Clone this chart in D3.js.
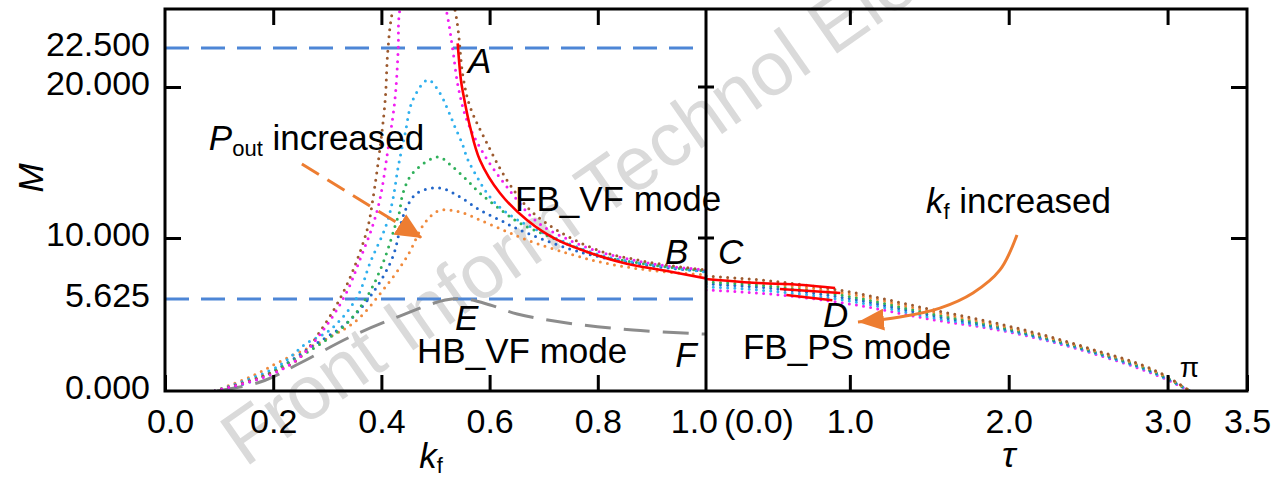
<!DOCTYPE html>
<html>
<head>
<meta charset="utf-8">
<script src="https://cdn.jsdelivr.net/npm/d3@7"></script>
<style>
  body { margin: 0; background: #fff; }
  text { font-family: "Liberation Sans", Arial, sans-serif; }
</style>
</head>
<body>
<div id="chart"></div>
<script>
// ---- data ----
// left panel: [k_f, M] per P_out level (dotted)
const kfMagenta = [[0.092,0],[0.194,0.98],[0.25,2.08],[0.299,4.03],[0.336,6.13],[0.36,8.42],[0.383,10.73],
  [0.397,12.52],[0.412,15.83],[0.425,19.17],[0.431,22.37],[0.434,24.94],[0.478,31],[0.521,24.74],[0.532,22.37],
  [0.542,20.0],[0.558,17.81],[0.588,15.63],[0.632,13.38],[0.688,11.06],[0.743,9.93],[0.804,9.0],[0.865,8.42],
  [0.928,7.99],[1.0,7.71]];
const kfBrown = [[0.092,0],[0.176,0.86],[0.244,1.89],[0.292,3.91],[0.329,6.06],[0.355,8.42],[0.375,10.73],
  [0.384,12.52],[0.397,15.83],[0.407,19.14],[0.412,22.37],[0.421,24.94],[0.477,32],[0.536,24.94],[0.551,20.64],
  [0.564,18.68],[0.595,16.29],[0.632,13.84],[0.675,11.85],[0.73,10.4],[0.804,9.07],[0.865,8.49],[0.928,8.06],[1.0,7.71]];
const kfLightBlue = [[0.092,0],[0.207,1.47],[0.262,2.93],[0.305,3.73],[0.355,5.75],[0.379,8.21],[0.409,10.86],
  [0.421,12.52],[0.431,14.7],[0.444,16.95],[0.458,19.14],[0.486,20.45],[0.508,19.6],[0.523,18.48],[0.536,17.35],
  [0.549,16.29],[0.56,15.17],[0.577,14.04],[0.595,12.98],[0.614,12.19],[0.643,11.39],[0.669,10.86],[0.717,10.07],
  [0.804,8.78],[0.865,8.28],[0.928,7.92],[1.0,7.56]];
const kfGreen = [[0.092,0],[0.185,0.98],[0.329,3.91],[0.373,5.77],[0.403,8.21],[0.427,10.99],[0.433,11.66],
  [0.44,12.98],[0.458,14.3],[0.505,15.36],[0.532,14.7],[0.558,13.84],[0.582,12.98],[0.614,12.05],[0.656,10.99],
  [0.717,10.0],[0.804,8.71],[0.865,8.28],[0.928,7.92],[1.0,7.63]];
const kfBlue = [[0.092,0],[0.176,0.79],[0.281,2.93],[0.336,4.16],[0.384,6.06],[0.421,8.64],[0.438,11.19],
  [0.447,12.05],[0.466,12.98],[0.508,13.31],[0.545,12.72],[0.582,11.85],[0.619,11.19],[0.656,10.53],[0.743,9.28],
  [0.804,8.64],[0.865,8.21],[0.928,7.85],[1.0,7.63]];
const kfOrange = [[0.092,0],[0.157,0.86],[0.218,1.89],[0.305,3.3],[0.355,4.34],[0.403,6.27],[0.447,8.64],
  [0.48,11.0],[0.505,11.8],[0.527,11.85],[0.551,11.66],[0.582,11.19],[0.625,10.53],[0.669,9.86],[0.743,8.92],
  [0.804,8.28],[0.865,7.85],[0.928,7.56],[1.0,7.35]];
// FB_VF mode (solid red) and HB_VF mode (grey dashed)
const kfRed = [[0.541,22.8],[0.547,20.45],[0.551,19.6],[0.564,17.35],[0.582,15.17],[0.619,12.98],[0.669,11.19],
  [0.725,9.86],[0.786,8.93],[0.848,8.21],[0.928,7.63],[1.0,7.1]];
const kfHB = [[0.096,0],[0.176,0.55],[0.25,1.71],[0.342,3.3],[0.434,4.58],[0.518,5.56],[0.555,5.625],
  [0.601,5.26],[0.651,4.71],[0.743,4.16],[0.865,3.73],[1.0,3.48]];

// right panel: tau sample points and M per curve (dotted)
const tauPoints = [0.095, 0.5, 1.0, 1.5, 2.0, 2.5, 3.0, 3.14];
const tauBrown     = [7.27, 6.92, 6.13, 5.01, 3.97, 2.63, 0.86, 0];
const tauOrange    = [7.05, 6.72, 5.98, 4.88, 3.88, 2.58, 0.82, 0];
const tauGreen     = [6.85, 6.55, 5.80, 4.75, 3.80, 2.52, 0.78, 0];
const tauBlue      = [6.70, 6.40, 5.65, 4.65, 3.74, 2.48, 0.75, 0];
const tauLightBlue = [6.50, 6.20, 5.50, 4.52, 3.67, 2.43, 0.71, 0];
const tauMagenta   = [6.27, 5.98, 5.32, 4.40, 3.61, 2.38, 0.67, 0];
// FB_PS mode (solid red pieces)
const tauRedA = [[0.095,7.06],[0.39,6.79],[0.706,6.63],[0.907,6.41]];
const tauRedB = [[0.56,6.34],[0.94,6.06]];
const tauRedC = [[0.6,5.91],[0.89,5.55]];

// axes
const kfTicks = [0, 0.2, 0.4, 0.6, 0.8];
const tauTicks = [1, 2, 3, 3.5];
const mTicks = [0, 5.625, 10, 20, 22.5];
const mMajor = [10, 20];
const mLimits = [22.5, 5.625];

// annotation arrows (data units)
const poutArrow = [[0.253,14.9],[0.475,10.0]];
const kfArrow = [[2.052,10.2],[1.945,7.71],[1.775,6.06],[1.567,5.07],[1.315,4.52],[1.051,4.22]];

// ---- layout ----
const W = 1277, H = 478;
const xL = 165, xM = 706, xR = 1247, yT = 9, yB = 391;

const svg = d3.select("#chart").append("svg")
  .attr("width", W).attr("height", H);

const x1 = d3.scaleLinear().domain([0, 1]).range([xL, xM]);
const x2 = d3.scaleLinear().domain([0, 3.5]).range([691, xR]);
// the drawn M axis is not uniform, so the scale follows its tick marks
const y = d3.scaleLinear().domain([0, 5.625, 10, 20, 25]).range([yB, 299, 238, 87, yT]);

// watermark
svg.append("text")
  .attr("transform", `translate(245,468) rotate(-35)`)
  .attr("font-size", 76)
  .attr("fill", "#dadada")
  .text("Front Inform Technol Electron Eng");

const defs = svg.append("defs");
defs.append("clipPath").attr("id", "clipL").append("rect")
  .attr("x", xL).attr("y", yT).attr("width", xM - xL).attr("height", yB - yT);
defs.append("clipPath").attr("id", "clipR").append("rect")
  .attr("x", xM).attr("y", yT).attr("width", xR - xM).attr("height", yB - yT);

const mk = (id, color, w, h) => defs.append("marker")
  .attr("id", id).attr("markerUnits", "userSpaceOnUse")
  .attr("markerWidth", w).attr("markerHeight", h)
  .attr("refX", w).attr("refY", h / 2).attr("orient", "auto")
  .append("path").attr("d", `M0,0L${w},${h / 2}L0,${h}Z`).attr("fill", color);
mk("arrowP", "#ed7d31", 26, 24);
mk("arrowK", "#ed7d31", 26, 22);

const gL = svg.append("g").attr("clip-path", "url(#clipL)");
const gR = svg.append("g").attr("clip-path", "url(#clipR)");

const lineL = d3.line().x(d => x1(d[0])).y(d => y(d[1])).curve(d3.curveCatmullRom.alpha(0.5));
const lineR = d3.line().x(d => x2(d[0])).y(d => y(d[1])).curve(d3.curveMonotoneX);

// limit lines M = 22.5 and 5.625
gL.selectAll(".limit").data(mLimits).join("line")
  .attr("x1", xL).attr("x2", xM)
  .attr("y1", d => y(d)).attr("y2", d => y(d))
  .attr("stroke", "#4d86d6").attr("stroke-width", 3)
  .attr("stroke-dasharray", "24 12");

// HB_VF mode
gL.append("path").attr("d", lineL(kfHB))
  .attr("fill", "none").attr("stroke", "#8c8c8c").attr("stroke-width", 3)
  .attr("stroke-dasharray", "26 13");

const dotted = (g, path, color) => g.append("path").attr("d", path)
  .attr("fill", "none").attr("stroke", color).attr("stroke-width", 3)
  .attr("stroke-linecap", "round").attr("stroke-dasharray", "0 7.2");

const leftSeries = [
  [kfOrange, "#f08a3c"], [kfBlue, "#2266c9"], [kfGreen, "#2fb05a"],
  [kfLightBlue, "#2fb0ee"], [kfBrown, "#9c5a2f"], [kfMagenta, "#f21ef2"]
];
leftSeries.forEach(([d, c]) => dotted(gL, lineL(d), c));

const rightSeries = [
  [tauMagenta, "#f21ef2"], [tauLightBlue, "#2fb0ee"], [tauBlue, "#2266c9"],
  [tauGreen, "#2fb05a"], [tauOrange, "#f08a3c"], [tauBrown, "#9c5a2f"]
];
rightSeries.forEach(([v, c]) => dotted(gR, lineR(tauPoints.map((t, i) => [t, v[i]])), c));

// FB_VF / FB_PS solid red
gL.append("path").attr("d", lineL(kfRed))
  .attr("fill", "none").attr("stroke", "#ff0000").attr("stroke-width", 2.6);
[tauRedA, tauRedB, tauRedC].forEach(d => gR.append("path").attr("d", lineR(d))
  .attr("fill", "none").attr("stroke", "#ff0000").attr("stroke-width", 2.6));

// ---- frame and axes ----
const styleAxis = (g, size) => {
  g.select(".domain").remove();
  g.attr("font-family", null).attr("font-size", size);
  g.selectAll("line").attr("stroke-width", 3);
  g.selectAll("text").attr("fill", "#000");
};

svg.append("g").attr("transform", `translate(0,${yB})`)
  .call(d3.axisBottom(x1).tickValues(kfTicks).tickSize(-16).tickPadding(18).tickFormat(d3.format(".1f")))
  .call(g => {
    styleAxis(g, 34);
    g.selectAll(".tick").filter(d => d === 0).select("text").attr("dx", 5);
  });
svg.append("g").attr("transform", `translate(0,${yB})`)
  .call(d3.axisBottom(x2).tickValues(tauTicks).tickSize(-16).tickPadding(18).tickFormat(d3.format(".1f")))
  .call(g => styleAxis(g, 34));
svg.append("g").attr("transform", `translate(0,${yT})`)
  .call(d3.axisTop(x1).tickValues(kfTicks.slice(1)).tickSize(-16).tickFormat(""))
  .call(g => styleAxis(g, 34));
svg.append("g").attr("transform", `translate(0,${yT})`)
  .call(d3.axisTop(x2).tickValues(tauTicks.slice(0, 3)).tickSize(-16).tickFormat(""))
  .call(g => styleAxis(g, 34));
svg.append("g").attr("transform", `translate(${xL},0)`)
  .call(d3.axisLeft(y).tickValues(mTicks).tickSize(-16).tickPadding(15).tickFormat(d3.format(".3f")))
  .call(g => {
    styleAxis(g, 34);
    g.selectAll(".tick").filter(d => !mMajor.includes(d)).select("line").remove();
    g.selectAll("text").attr("dy", "0.22em");
  });
svg.append("g").attr("transform", `translate(${xR},0)`)
  .call(d3.axisRight(y).tickValues(mMajor).tickSize(-16).tickFormat(""))
  .call(g => styleAxis(g, 34));
svg.append("g").selectAll("line").data(mMajor).join("line")
  .attr("x1", xM - 8).attr("x2", xM + 8)
  .attr("y1", d => y(d)).attr("y2", d => y(d))
  .attr("stroke", "#000").attr("stroke-width", 3);

svg.append("rect").attr("x", xL).attr("y", yT)
  .attr("width", xR - xL).attr("height", yB - yT)
  .attr("fill", "none").attr("stroke", "#000").attr("stroke-width", 3);
svg.append("line").attr("x1", xM).attr("x2", xM).attr("y1", yT).attr("y2", yB)
  .attr("stroke", "#000").attr("stroke-width", 3);

// shared boundary labels
svg.append("text").attr("x", xM + 12).attr("y", 433).attr("text-anchor", "end")
  .attr("font-size", 34).text("1.0");
svg.append("text").attr("x", xM + 18).attr("y", 433)
  .attr("font-size", 34).text("(0.0)");

// axis titles
svg.append("text").attr("transform", "translate(43,178) rotate(-90)")
  .attr("text-anchor", "middle").attr("font-size", 35).attr("font-style", "italic").text("M");
const kfTitle = svg.append("text").attr("x", x1(0.47)).attr("y", 468).attr("font-size", 35);
kfTitle.append("tspan").attr("font-style", "italic").text("k");
kfTitle.append("tspan").attr("font-size", 22).attr("dy", 5).text("f");
svg.append("text").attr("x", x2(2.0)).attr("y", 467).attr("text-anchor", "middle")
  .attr("font-size", 36).attr("font-style", "italic").text("τ");

// ---- annotations ----
const labelsL = [
  { t: "A", k: 0.56, m: 20.9, it: true },
  { t: "FB_VF mode", k: 0.647, m: 11.79 },
  { t: "B", k: 0.924, m: 8.15, it: true },
  { t: "E", k: 0.536, m: 3.73, it: true },
  { t: "HB_VF mode", k: 0.466, m: 1.71 },
  { t: "F", k: 0.943, m: 1.47, it: true }
];
labelsL.forEach(l => svg.append("text").attr("x", x1(l.k)).attr("y", y(l.m))
  .attr("font-size", 35).attr("font-style", l.it ? "italic" : null).text(l.t));
const labelsR = [
  { t: "C", k: 0.17, m: 8.15, it: true },
  { t: "D", k: 0.831, m: 3.91, it: true },
  { t: "FB_PS mode", k: 0.327, m: 1.96 }
];
labelsR.forEach(l => svg.append("text").attr("x", x2(l.k)).attr("y", y(l.m))
  .attr("font-size", 35).attr("font-style", l.it ? "italic" : null).text(l.t));
svg.append("text").attr("x", x2(3.077)).attr("y", y(0.86)).attr("font-size", 28).text("π");

const pLabel = svg.append("text").attr("x", x1(0.081)).attr("y", y(15.83)).attr("font-size", 35);
pLabel.append("tspan").attr("font-style", "italic").text("P");
pLabel.append("tspan").attr("font-size", 22).attr("dy", 6).text("out");
pLabel.append("tspan").attr("dy", -6).text(" increased");

const kLabel = svg.append("text").attr("x", x2(1.479)).attr("y", y(11.66)).attr("font-size", 35);
kLabel.append("tspan").attr("font-style", "italic").text("k");
kLabel.append("tspan").attr("font-size", 22).attr("dy", 6).text("f");
kLabel.append("tspan").attr("dy", -6).text("  increased");

svg.append("path").attr("d", d3.line().x(d => x1(d[0])).y(d => y(d[1]))(poutArrow))
  .attr("fill", "none").attr("stroke", "#ed7d31").attr("stroke-width", 3)
  .attr("stroke-dasharray", "20 10").attr("marker-end", "url(#arrowP)");
svg.append("path").attr("d", d3.line().x(d => x2(d[0])).y(d => y(d[1])).curve(d3.curveCatmullRom)(kfArrow))
  .attr("fill", "none").attr("stroke", "#ed7d31").attr("stroke-width", 3)
  .attr("marker-end", "url(#arrowK)");
</script>
</body>
</html>
